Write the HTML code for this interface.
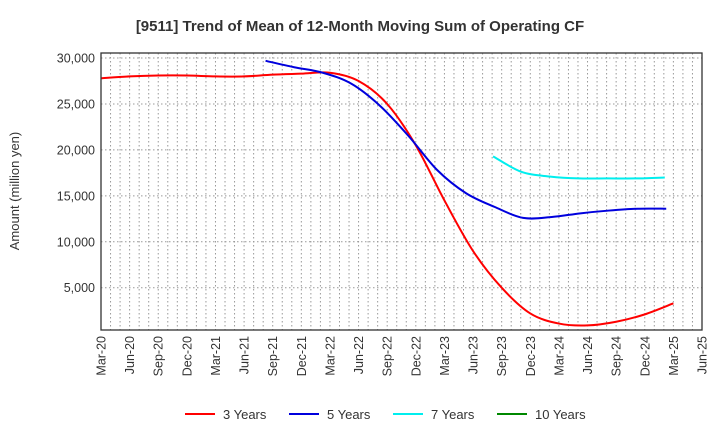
<!DOCTYPE html>
<html><head><meta charset="utf-8"><style>
body{margin:0;background:#fff;font-family:"Liberation Sans",Arial,sans-serif}
</style></head><body>
<svg id="c" width="720" height="440" xmlns="http://www.w3.org/2000/svg">
<text x="360" y="31" text-anchor="middle" font-size="15" font-weight="bold" fill="#333">[9511]  Trend of Mean of 12-Month Moving Sum of Operating CF</text>
<text transform="translate(19,191) rotate(-90)" text-anchor="middle" font-size="13" fill="#333">Amount (million yen)</text>
<g id="grid"></g><g id="series"></g><g id="axes"></g><g id="legend"></g>
</svg>
<script>
const xLabels=["Mar-20","Jun-20","Sep-20","Dec-20","Mar-21","Jun-21","Sep-21","Dec-21","Mar-22","Jun-22","Sep-22","Dec-22","Mar-23","Jun-23","Sep-23","Dec-23","Mar-24","Jun-24","Sep-24","Dec-24","Mar-25","Jun-25"];
const yTicks=[5000,10000,15000,20000,25000,30000];
const s3=[27800,28000,28100,28100,28000,28000,28200,28300,28400,27500,25000,20500,14500,9000,5000,2200,1100,900,1300,2100,3300];
const s5=[29700,29000,28400,27200,24800,21500,17800,15300,13800,12600,12700,13100,13400,13600,13600];
const s7=[19300,17600,17100,16900,16900,16900,17000];
const s10=[];
const NS="http://www.w3.org/2000/svg";
const L=101,R=702,T=53,B=330,yMin=400,yMax=30550;
const xq=q=>L+(R-L)*q*3/63;
const xm=m=>L+(R-L)*m/63;
const y=v=>B-(v-yMin)/(yMax-yMin)*(B-T);
function mk(t,a,p){const e=document.createElementNS(NS,t);for(const k in a)e.setAttribute(k,a[k]);(p||document.getElementById('c')).appendChild(e);return e;}
const g=document.getElementById('grid'),ax=document.getElementById('axes'),sg=document.getElementById('series'),lg=document.getElementById('legend');
for(let m=1;m<63;m++){const l=mk('line',{x1:xm(m),x2:xm(m),y1:T,y2:B,stroke:'#999','stroke-dasharray':'1.5,2.5'},g);

}
yTicks.forEach(v=>{const l=mk('line',{x1:L,x2:R,y1:y(v),y2:y(v),stroke:'#999','stroke-dasharray':'1.5,2.5'},g);


const t=mk('text',{x:L-6,y:y(v)+4.5,'text-anchor':'end','font-size':'12.5',fill:'#333'},ax);t.textContent=v.toLocaleString('en-US');

});
const fr=mk('rect',{x:L,y:T,width:R-L,height:B-T,fill:'none',stroke:'#333','stroke-width':1.3},ax);


xLabels.forEach((s,i)=>{const t=mk('text',{transform:`translate(${xq(i)+4.5},${B+6}) rotate(-90)`,'text-anchor':'end','font-size':'12.5',fill:'#333'},ax);t.textContent=s;

});
function path(arr,start){const p=arr.map((v,i)=>[xq(start+i),y(v)]);if(p.length<2)return '';let d=`M${p[0][0]},${p[0][1]}`;
for(let i=0;i<p.length-1;i++){const p0=p[i-1]||p[i],p1=p[i],p2=p[i+1],p3=p[i+2]||p2;
d+=` C${p1[0]+(p2[0]-p0[0])/6},${p1[1]+(p2[1]-p0[1])/6} ${p2[0]-(p3[0]-p1[0])/6},${p2[1]-(p3[1]-p1[1])/6} ${p2[0]},${p2[1]}`;}return d;}
const series=[[s3,0,'#ff0000','3 Years','series-3-years'],[s5,5.75,'#0000dd','5 Years','series-5-years'],[s7,13.7,'#00eeee','7 Years','series-7-years'],[s10,0,'#008800','10 Years','series-10-years']];
series.forEach(([a,st,c,n,id],i)=>{if(a.length>1){const p=mk('path',{d:path(a,st),fill:'none',stroke:c,'stroke-width':2},sg);

}
const lx=[185,289,393,497][i];
const ll=mk('line',{x1:lx,x2:lx+30,y1:414,y2:414,stroke:c,'stroke-width':2},lg);


const t=mk('text',{x:lx+38,y:419,'font-size':'13',fill:'#333'},lg);t.textContent=n;

});
</script>
</body></html>
